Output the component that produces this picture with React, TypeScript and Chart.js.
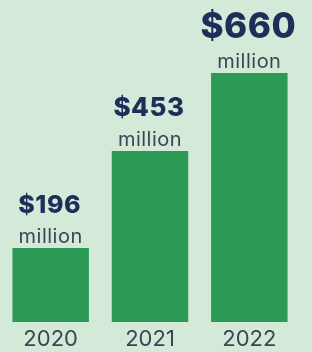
import React, { useEffect, useRef } from "react";
import { Chart, registerables } from "chart.js";

Chart.register(...registerables);

const years = ["2020", "2021", "2022"];
const fundingMillions = [196, 453, 660];
const valueLabels = ["$196", "$453", "$660"];
const unitLabel = "million";
const valueFontSizes = [25, 26, 35];

const BG = "#d4ead8";
const BAR = "#2b9a55";
const NAVY = "#1f2d5b";
const GRAY = "#3b4750";
const FONT = "Inter, 'DejaVu Sans', sans-serif";

const labelPlugin = {
  id: "valueLabels",
  beforeDraw(chart: any) {
    const ctx = chart.ctx;
    ctx.save();
    ctx.fillStyle = BG;
    ctx.fillRect(0, 0, chart.width, chart.height);
    ctx.restore();
  },
  afterDatasetsDraw(chart: any) {
    const ctx = chart.ctx;
    const meta = chart.getDatasetMeta(0);
    meta.data.forEach((bar: any, i: number) => {
      ctx.save();
      ctx.textAlign = "center";
      ctx.textBaseline = "alphabetic";
      try { (ctx as any).letterSpacing = "0.5px"; } catch (e) {}
      ctx.fillStyle = GRAY;
      ctx.font = `400 20px ${FONT}`;
      ctx.fillText(unitLabel, bar.x, bar.y - 5);
      ctx.fillStyle = NAVY;
      ctx.font = `800 ${valueFontSizes[i]}px ${FONT}`;
      ctx.fillText(valueLabels[i], bar.x - 1, bar.y - 35);
      ctx.restore();
    });
  },
};

export default function App() {
  const ref = useRef<HTMLCanvasElement>(null);
  useEffect(() => {
    document.body.style.margin = "0";
    document.body.style.background = BG;
    const chart = new Chart(ref.current!, {
      type: "bar",
      data: {
        labels: years,
        datasets: [
          {
            data: fundingMillions,
            backgroundColor: BAR,
            barPercentage: 0.77,
            categoryPercentage: 1,
          },
        ],
      },
      options: {
        animation: false,
        responsive: false,
        events: [],
        layout: { padding: { top: 73, left: 1, right: 13, bottom: -4 } },
        plugins: { legend: { display: false }, tooltip: { enabled: false } },
        scales: {
          y: { display: false, min: 0, max: 660 },
          x: {
            grid: { display: false, drawTicks: false },
            border: { display: false },
            ticks: {
              color: GRAY,
              padding: 6,
              font: { family: FONT, size: 22, weight: "400", lineHeight: 1 },
            },
          },
        },
      },
      plugins: [labelPlugin],
    });
    return () => chart.destroy();
  }, []);
  return (
    <div style={{ width: 312, height: 352, background: BG }}>
      <canvas ref={ref} width={312} height={352} />
    </div>
  );
}
